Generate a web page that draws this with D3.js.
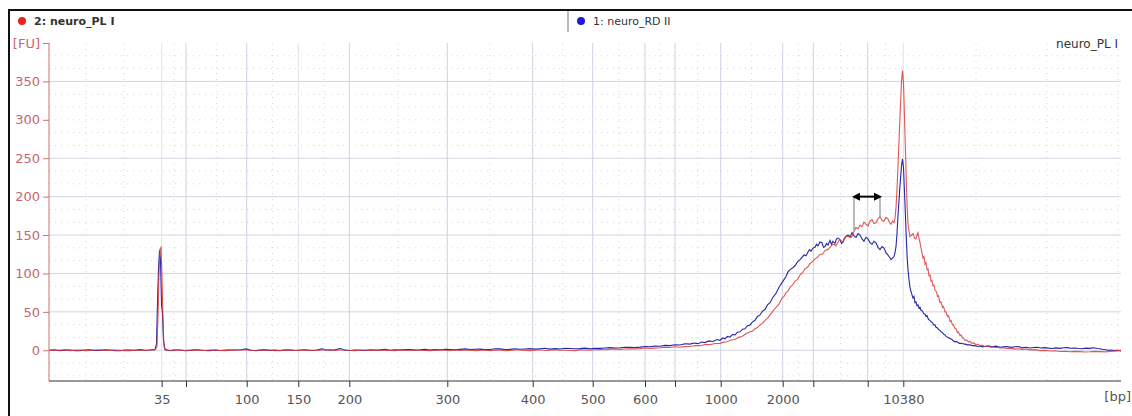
<!DOCTYPE html>
<html>
<head>
<meta charset="utf-8">
<script src="https://cdn.jsdelivr.net/npm/d3@7"></script>
<style>
  body { margin: 0; background: #fff; }
  svg { display: block; font-family: "DejaVu Sans", Verdana, sans-serif; }
</style>
</head>
<body>
<div id="chart"></div>
<script>
// ladder sizes and their migration times (s)
var ladderSizes = [35, 50, 100, 150, 200, 300, 400, 500, 600, 700, 1000, 2000, 3000, 7000, 10380]
var ladderTimes = [31.27, 33.70, 39.77, 44.93, 50.03, 59.83, 68.37, 74.37, 79.60, 82.60, 87.17, 93.37, 96.43, 101.87, 105.43]
var ladderLabels = ["35", "", "100", "150", "200", "300", "400", "500", "600", "", "1000", "2000", "", "", "10380"]
var fuTicks = [0, 50, 100, 150, 200, 250, 300, 350]

// neuro_RD II  [time s, FU]
var traceRD = [
  [20.0,0],[20.5,0.6],[21.1,-0.5],[21.6,0.2],[22.1,0.3],[22.6,-0.6],[23.1,-0.4],[23.6,0.4],[24.1,0.5],[24.6,-0.2],
  [25.1,-0.3],[25.6,0.5],[26.1,0.4],[26.6,-0.4],[27.1,-0.6],[27.6,0.3],[28.1,0.2],[28.6,-0.3],[29.1,0.8],[29.6,0.1],
  [30.1,0.3],[30.6,1],[30.75,8],[30.85,62],[30.95,105],[31.05,130],[31.15,118],[31.25,60],[31.35,48],[31.45,12],
  [31.6,1],[32.1,-0.5],[32.6,0.4],[33.1,0.3],[33.6,-0.4],[34.1,-0.2],[34.6,0.5],[35.1,0.4],[35.6,-0.3],[36.1,-0.4],
  [36.6,0.3],[37.1,-0.3],[37.8,0.4],[38.4,0.3],[39.2,0.6],[39.7,1.8],[40.2,0.1],[40.7,-0.4],[41.1,0.2],[41.6,0.5],
  [42.1,-0.3],[42.6,0.2],[43.1,-0.4],[43.6,0.4],[44.1,0.2],[44.6,-0.3],[45.1,0.3],[45.6,0.6],[46.2,-0.2],[46.8,0.4],
  [47.3,2],[47.7,0.3],[48.1,0.2],[48.6,0.6],[49.1,2.2],[49.6,0.1],[50.1,-0.2],[50.6,0.4],[51.1,0.1],[51.6,-0.3],
  [52.1,0.6],[52.6,0.2],[53.1,0.5],[53.6,1.1],[54.1,-0.1],[54.6,0.5],[55.1,0.3],[55.6,0.9],[56.1,0.8],[56.6,0.2],
  [57.1,0.6],[57.6,1.2],[58.1,0.2],[58.6,0.9],[59.1,0.4],[59.6,1.3],[60.1,1.0],[60.6,0.6],[61.1,1.2],[61.6,1.8],
  [62.1,0.8],[62.6,1.4],[63.1,1.5],[63.6,0.9],[64.1,1.1],[64.6,1.9],[65.1,1.8],[65.6,1.0],[66.1,1.2],[66.6,2.0],
  [67.1,1.4],[67.6,1.7],[68.1,2.1],[68.6,1.5],[69.1,2],[69.6,2.6],[70.1,1.5],[70.6,2.1],[71.1,1.6],[71.6,2.6],
  [72.1,2.4],[72.6,1.9],[73.1,2.2],[73.6,2.8],[74.1,2.0],[74.6,2.6],[75.1,2.5],[75.6,3.0],[76.1,3.5],[76.6,3.0],
  [77.1,3.2],[77.6,4.0],[78.1,3.8],[78.6,3.5],[79.1,4.1],[79.6,5.0],[80.1,4.6],[80.6,5.4],[81.1,5.2],[81.6,6.4],
  [82.1,6],[82.6,7.2],[83.1,6.8],[83.6,8.4],[84.1,8],[84.5,9.5],[84.9,8.6],[85.3,10.8],[85.6,10],[86.0,12.2],
  [86.4,11.5],[86.8,14],[87.1,13],[87.4,16],[87.6,15],[87.85,18],[88.1,17],[88.35,20.5],[88.6,20],[88.85,23.5],
  [89.1,24],[89.35,27.5],[89.6,28],[89.85,32],[90.1,33],[90.35,37],[90.6,39],[90.85,44],[91.1,46],[91.35,51],
  [91.6,53],[91.85,59],[92.1,62],[92.4,69],[92.7,74],[93.0,82],[93.3,88],[93.5,92],[93.7,96],[93.9,102],
  [94.1,105],[94.35,107],[94.6,110],[94.85,115],[95.1,118],[95.3,121],[95.5,124],[95.7,123],[95.9,128],[96.05,131],
  [96.2,129],[96.4,133],[96.6,134],[96.75,138],[96.9,136],[97.1,141],[97.3,140],[97.45,134],[97.6,135],[97.75,139],
  [97.9,137],[98.1,143],[98.25,138],[98.4,142],[98.6,139],[98.75,145],[98.9,146],[99.1,144],[99.25,139],[99.4,141],
  [99.55,146],[99.7,148],[99.9,150],[100.1,147],[100.3,153],[100.5,149],[100.7,147],[100.9,152],[101.1,150],[101.3,145],
  [101.5,142],[101.7,147],[101.9,145],[102.1,140],[102.3,138],[102.5,142],[102.7,140],[102.9,134],[103.1,131],[103.3,135],
  [103.5,133],[103.7,127],[103.9,124],[104.05,121],[104.2,118],[104.35,120],[104.5,122],[104.6,127],[104.7,135],[104.8,152],
  [104.9,175],[105.0,195],[105.1,215],[105.25,240],[105.35,249],[105.45,238],[105.52,215],[105.6,190],[105.68,163],[105.75,140],
  [105.82,120],[105.9,105],[106.0,92],[106.1,82],[106.25,74],[106.4,68],[106.5,70],[106.6,62],[106.7,63],[106.8,58],
  [106.9,59],[107.0,55],[107.1,56],[107.2,52],[107.35,51],[107.45,48],[107.6,47],[107.7,44],[107.8,45],[107.95,40],
  [108.1,39],[108.2,37],[108.35,36],[108.45,33],[108.6,33],[108.7,30],[108.85,29],[108.95,27],[109.1,26],[109.2,24],
  [109.35,23],[109.45,21],[109.6,20],[109.7,18],[109.85,17],[110.0,16],[110.15,15],[110.3,14],[110.45,12],[110.6,11],
  [110.75,11.5],[110.9,10],[111.05,9],[111.2,9],[111.4,8.5],[111.6,8],[111.85,7],[112.1,7],[112.35,6],[112.6,6],
  [112.85,5],[113.1,5.5],[113.35,4.4],[113.6,5],[113.9,5.8],[114.3,4.5],[114.7,5.4],[115.1,4],[115.45,4.6],[115.8,5],
  [116.2,3.8],[116.6,4.5],[116.95,4.8],[117.3,3.2],[117.7,3.9],[118.1,3],[118.45,3.6],[118.8,4],[119.2,3],[119.6,3.5],
  [119.95,2.8],[120.3,2.4],[120.7,3.1],[121.1,2.5],[121.45,3.2],[121.8,3.4],[122.2,2.6],[122.6,3],[122.95,2.3],[123.3,2],
  [123.7,2.8],[124.1,2.5],[124.35,3.2],[124.6,3],[124.85,2.4],[125.1,2],[125.3,1.4],[125.5,1],[125.7,0.6],[125.9,0],
  [126.2,0.3],[126.5,-0.5],[126.85,-0.2],[127.2,-1]
]

// neuro_PL I  [time s, FU]
var tracePL = [
  [20.0,0.3],[20.5,-0.3],[21.1,0.1],[21.6,0.5],[22.1,-0.4],[22.6,0.2],[23.1,0.2],[23.6,-0.4],[24.1,-0.3],[24.6,0.3],
  [25.1,0.5],[25.6,-0.1],[26.1,-0.2],[26.6,0.4],[27.1,0.1],[27.6,-0.4],[28.1,-0.5],[28.6,0.2],[29.1,0.4],[29.6,-0.2],
  [30.1,0.2],[30.6,0.5],[30.8,5],[30.9,45],[31.0,100],[31.1,132],[31.2,134],[31.3,95],[31.4,40],[31.5,5],
  [31.7,0],[32.1,-0.3],[32.6,0.4],[33.1,0.1],[33.6,-0.3],[34.1,0.2],[34.6,0.5],[35.1,-0.2],[35.6,-0.2],[36.1,0.3],
  [36.6,0.2],[37.1,-0.3],[37.6,-0.5],[38.1,0.2],[38.6,0.1],[39.1,0.5],[39.6,0.9],[40.1,0.2],[40.6,-0.3],[41.1,0.1],
  [41.6,0.3],[42.1,0.2],[42.6,-0.4],[43.1,-0.2],[43.6,0.2],[44.1,0.4],[44.6,-0.1],[45.1,-0.3],[45.6,0.4],[46.1,0.1],
  [46.6,-0.3],[47.1,0.2],[47.6,0.8],[48.1,0.3],[48.6,-0.1],[49.1,0.4],[49.6,0.6],[50.1,-0.2],[50.6,-0.4],[51.1,0.2],
  [51.6,0.3],[52.1,-0.3],[52.6,-0.2],[53.1,0.4],[53.6,0.2],[54.1,-0.2],[54.6,-0.5],[55.1,0.3],[55.6,0.1],[56.1,-0.1],
  [56.6,0.4],[57.1,0.1],[57.6,-0.3],[58.1,-0.5],[58.6,0.2],[59.1,0.3],[59.6,0.0],[60.1,-0.6],[60.6,0.5],[61.1,-0.1],
  [61.6,0.2],[62.1,0.4],[62.6,-0.4],[63.1,-0.2],[63.6,0.3],[64.1,-0.5],[64.6,0.1],[65.1,0.3],[65.6,-0.6],[66.1,-0.1],
  [66.6,0.4],[67.1,0.5],[67.6,-0.2],[68.1,-0.5],[68.6,0.2],[69.1,0.6],[69.6,-0.3],[70.1,0.1],[70.6,0.6],[71.1,0.2],
  [71.6,0.1],[72.1,-0.2],[72.6,-0.5],[73.1,0.5],[73.6,0.3],[74.1,0.2],[74.6,0.6],[75.1,1],[75.6,0.7],[76.1,1.4],
  [76.6,1.8],[77.1,1.2],[77.6,1.6],[78.1,2],[78.6,1.7],[79.1,2.2],[79.6,2.9],[80.1,2.5],[80.6,2.8],[81.1,3.2],
  [81.6,3.9],[82.1,3.6],[82.6,4.6],[83.1,4],[83.6,4.8],[84.1,5],[84.6,6.2],[85.1,6],[85.6,7.6],[86.1,7.4],
  [86.6,8.9],[87.1,9],[87.45,10.6],[87.8,11],[88.2,13.4],[88.6,14],[88.95,16.8],[89.3,18],[89.7,21.5],[90.1,24],
  [90.35,25],[90.6,28],[90.85,29.5],[91.1,33],[91.35,35],[91.6,39],[91.85,41.5],[92.1,46],[92.4,51],[92.7,56],
  [93.0,60],[93.3,68],[93.5,70],[93.7,75],[93.9,77],[94.1,82],[94.35,85],[94.6,90],[94.85,92],[95.1,98],
  [95.35,101],[95.6,106],[95.85,108],[96.1,113],[96.35,115],[96.6,119],[96.85,121],[97.1,125],[97.35,125],[97.6,130],
  [97.85,131],[98.1,134],[98.3,137],[98.5,138],[98.7,136],[98.9,141],[99.05,144],[99.2,143],[99.4,141],[99.6,146],
  [99.75,149],[99.9,148],[100.1,149],[100.25,147],[100.4,152],[100.55,156],[100.7,160],[100.9,158],[101.1,163],[101.3,161],
  [101.5,167],[101.7,164],[101.9,162],[102.1,168],[102.3,170],[102.5,165],[102.7,166],[102.9,171],[103.1,174],[103.3,169],
  [103.5,168],[103.7,173],[103.9,171],[104.05,166],[104.2,164],[104.35,168],[104.5,166],[104.6,172],[104.7,185],[104.8,210],
  [104.9,240],[105.0,272],[105.1,305],[105.25,350],[105.35,364],[105.45,348],[105.52,318],[105.6,280],[105.68,245],[105.75,210],
  [105.82,186],[105.9,165],[106.0,155],[106.1,148],[106.25,150],[106.4,152],[106.55,146],[106.7,145],[106.8,150],[106.9,153],
  [107.0,146],[107.1,140],[107.25,130],[107.4,120],[107.5,122],[107.6,112],[107.7,114],[107.8,105],[107.9,106],[108.0,97],
  [108.1,98],[108.2,90],[108.3,91],[108.4,84],[108.5,85],[108.6,78],[108.75,76],[108.85,70],[108.95,71],[109.1,62],
  [109.2,63],[109.35,56],[109.45,57],[109.6,50],[109.7,50],[109.85,44],[109.95,45],[110.1,38],[110.2,39],[110.35,33],
  [110.45,33],[110.6,28],[110.7,28],[110.85,23],[110.95,24],[111.1,19],[111.2,20],[111.35,16],[111.45,16],[111.6,13],
  [111.75,13.5],[111.95,11],[112.1,11.5],[112.3,9],[112.5,9.6],[112.7,7],[112.9,7.8],[113.1,6],[113.35,6.4],[113.6,5],
  [113.85,5.5],[114.1,4],[114.35,4.6],[114.6,3.6],[114.85,3.9],[115.1,3],[115.45,3.4],[115.8,2.4],[116.2,2.8],[116.6,1.5],
  [116.95,2.0],[117.3,1.2],[117.7,1.6],[118.1,0.5],[118.6,0.8],[119.1,-0.4],[119.6,-0.1],[120.1,-1],[120.6,-0.6],[121.1,-1.6],
  [121.6,-1.2],[122.1,-2],[122.6,-1.4],[123.1,-1.8],[123.6,-2.3],[124.1,-2],[124.6,-1.5],[125.1,-1.7],[125.6,-2.1],[126.1,-1.5],
  [126.6,-0.8],[127.2,0]
]

// sizing bracket drawn on neuro_PL I
var bracketTimes = [100.5, 103.1]
var bracketLevel = 200

var W = 1132, H = 416
var m = {left: 49, right: 1121, top: 43, bottom: 381}

var svg = d3.select("#chart").append("svg").attr("width", W).attr("height", H)

var x = d3.scaleLinear().domain([20, 127.2]).range([m.left, m.right])
var y = d3.scaleLinear().domain([-40, 400]).range([m.bottom, m.top])
var bp = d3.scaleLinear().domain(ladderSizes).range(ladderTimes)

// frame + header
svg.append("line").attr("x1", 8).attr("x2", W).attr("y1", 10).attr("y2", 10).attr("stroke", "#111").attr("stroke-width", 2)
svg.append("line").attr("x1", 9).attr("x2", 9).attr("y1", 10).attr("y2", H).attr("stroke", "#111").attr("stroke-width", 2)
svg.append("line").attr("x1", 568).attr("x2", 568).attr("y1", 11).attr("y2", 32).attr("stroke", "#777")

var header = [
  {name: "2: neuro_PL I", color: "#e8231f", cx: 22, weight: "bold"},
  {name: "1: neuro_RD II", color: "#1a1ae0", cx: 581, weight: "normal"}
]
svg.selectAll(".hdot").data(header).enter().append("circle")
  .attr("cx", function(d){ return d.cx }).attr("cy", 21).attr("r", 4)
  .attr("fill", function(d){ return d.color })
svg.selectAll(".htxt").data(header).enter().append("text")
  .attr("x", function(d){ return d.cx + 12 }).attr("y", 25)
  .attr("font-size", 11).attr("font-weight", function(d){ return d.weight })
  .attr("fill", "#333").text(function(d){ return d.name })

// grid
var grid = svg.append("g")
var fuMinor = d3.range(-100/3, 400, 50/3).filter(function(v){ return Math.abs(v/50 - Math.round(v/50)) > 0.01 && v > -40 })
grid.selectAll(".hmin").data(fuMinor.concat([300])).enter().append("line")
  .attr("x1", m.left).attr("x2", m.right)
  .attr("y1", function(d){ return y(d) }).attr("y2", function(d){ return y(d) })
  .attr("stroke", "#d6d6d6").attr("stroke-dasharray", "1,5")
grid.selectAll(".hmaj").data(fuTicks.filter(function(d){ return d != 300 })).enter().append("line")
  .attr("x1", m.left).attr("x2", m.right)
  .attr("y1", function(d){ return y(d) }).attr("y2", function(d){ return y(d) })
  .attr("stroke", "#d4d4e4")

var tMinor = []
for (var i = 0; i < ladderTimes.length - 1; i++) tMinor.push((ladderTimes[i] + ladderTimes[i+1]) / 2)
tMinor = tMinor.concat([23.7, 27.5, 112.7, 119.8, 126.9])
grid.selectAll(".vmin").data(tMinor).enter().append("line")
  .attr("x1", function(d){ return x(d) }).attr("x2", function(d){ return x(d) })
  .attr("y1", m.top).attr("y2", m.bottom)
  .attr("stroke", "#d6d6d6").attr("stroke-dasharray", "1,5")
grid.selectAll(".vmaj").data(ladderTimes).enter().append("line")
  .attr("x1", function(d){ return x(d) }).attr("x2", function(d){ return x(d) })
  .attr("y1", m.top).attr("y2", m.bottom)
  .attr("stroke", function(d, i){ return (i == 0 || i == 3 || i == 14) ? "#e2e2ee" : "#d0d0e2" })

// traces
svg.append("clipPath").attr("id", "clip").append("rect")
  .attr("x", m.left).attr("y", m.top - 5).attr("width", m.right - m.left).attr("height", m.bottom - m.top + 5)
var line = d3.line().x(function(d){ return x(d[0]) }).y(function(d){ return y(d[1]) })
var plot = svg.append("g").attr("clip-path", "url(#clip)")
plot.append("path").datum(traceRD).attr("d", line).attr("fill", "none")
  .attr("stroke", "#2626a8").attr("stroke-width", 1.1)
plot.append("path").datum(tracePL).attr("d", line).attr("fill", "none")
  .attr("stroke", "#d83a3a").attr("stroke-width", 1.1).attr("opacity", 0.85)

// bracket
function plAt(t){
  var b = d3.bisector(function(d){ return d[0] }).left(tracePL, t)
  return tracePL[Math.min(b, tracePL.length - 1)][1]
}
svg.append("defs").selectAll("marker").data(["s", "e"]).enter().append("marker")
  .attr("id", function(d){ return "ar" + d })
  .attr("viewBox", "0 0 10 10").attr("refX", 5).attr("refY", 5)
  .attr("markerWidth", 4).attr("markerHeight", 4).attr("orient", "auto-start-reverse")
  .append("path").attr("d", "M0,0L10,5L0,10z").attr("fill", "#000")
svg.selectAll(".bv").data(bracketTimes).enter().append("line")
  .attr("x1", function(d){ return x(d) }).attr("x2", function(d){ return x(d) })
  .attr("y1", y(bracketLevel)).attr("y2", function(d){ return y(plAt(d)) })
  .attr("stroke", "#777")
svg.append("line")
  .attr("x1", x(bracketTimes[0]) + 2).attr("x2", x(bracketTimes[1]) - 2)
  .attr("y1", y(bracketLevel)).attr("y2", y(bracketLevel))
  .attr("stroke", "#000").attr("stroke-width", 2)
  .attr("marker-start", "url(#ars)").attr("marker-end", "url(#are)")

// y axis
var ya = svg.append("g").attr("transform", "translate(" + m.left + ",0)")
  .call(d3.axisLeft(y).tickValues(fuTicks.concat([400])).tickSize(6).tickPadding(3)
    .tickFormat(function(d){ return d == 400 ? "[FU]" : d }))
ya.select(".domain").attr("stroke", "#d07070").attr("d", "M0," + m.top + "V" + m.bottom)
ya.selectAll(".tick line").attr("stroke", "#d07070")
ya.selectAll(".tick text").attr("fill", "#c8646e").attr("font-size", 13).attr("font-family", "DejaVu Sans, Verdana, sans-serif")

// x axis
var xa = svg.append("g").attr("transform", "translate(0," + m.bottom + ")")
  .call(d3.axisBottom(x).tickValues(ladderSizes.map(bp)).tickSize(6).tickPadding(8)
    .tickFormat(function(d, i){ return ladderLabels[i] }))
xa.select(".domain").attr("stroke", "#333").attr("d", "M" + m.left + ",0H" + m.right)
xa.selectAll(".tick line").attr("stroke", "#333")
xa.selectAll(".tick text").attr("fill", "#555").attr("font-size", 13).attr("font-family", "DejaVu Sans, Verdana, sans-serif")
svg.append("text").attr("x", 1131).attr("y", 401).attr("text-anchor", "end")
  .attr("font-size", 13).attr("fill", "#555").text("[bp]")

// sample name
svg.append("text").attr("x", 1118).attr("y", 48).attr("text-anchor", "end")
  .attr("font-size", 12).attr("fill", "#333").text("neuro_PL I")
</script>
</body>
</html>
